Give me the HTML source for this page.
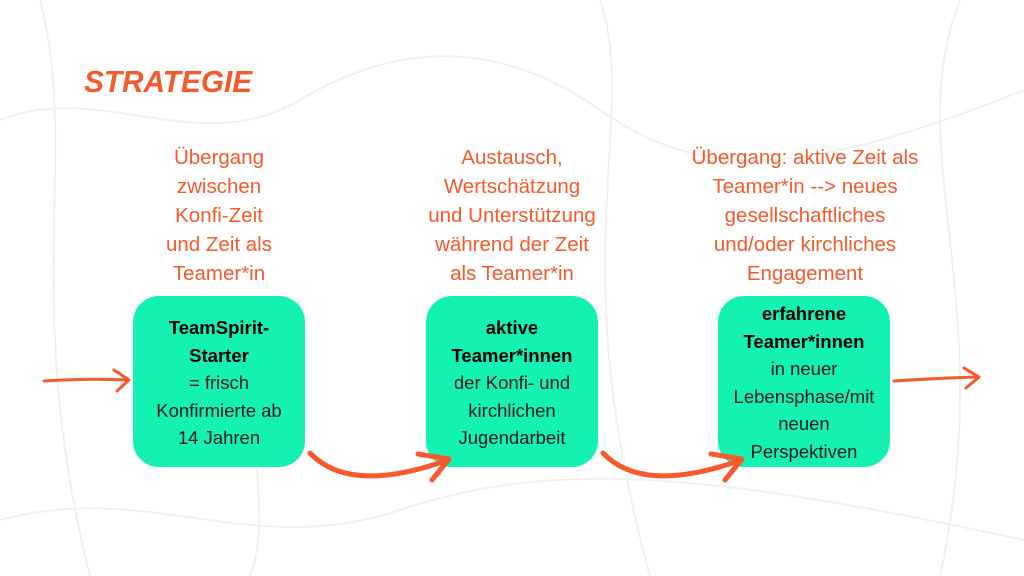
<!DOCTYPE html>
<html><head><meta charset="utf-8"><style>
body{margin:0;width:1024px;height:576px;background:#fff;position:relative;overflow:hidden;font-family:"Liberation Sans","DejaVu Sans",sans-serif}
.t{position:absolute;width:300px;text-align:center;color:#f5592c;font-size:20.5px;line-height:29px}
.b{position:absolute;top:296px;width:172px;height:171px;background:#13f2b2;border-radius:26px;text-align:center;font-size:18.5px;line-height:27.5px;color:#1a1a1a;box-sizing:border-box;padding-top:18px}
.b b{color:#000}
h1{position:absolute;left:84px;top:64px;margin:0;font-size:31px;color:#f5592c;font-style:italic;font-weight:900;letter-spacing:0px;font-family:"Liberation Sans",sans-serif;transform:scaleX(0.96);transform-origin:left}
</style></head><body>
<svg width="1024" height="576" style="position:absolute;left:0;top:0" fill="none" stroke="#f0f0f0" stroke-width="2">
<path d="M0 120 C100 80 200 160 300 100 S500 40 600 110 S800 180 1024 90"/>
<path d="M0 520 C150 480 250 560 400 510 S700 470 1024 540"/>
<path d="M40 0 C80 150 20 300 90 576"/>
<path d="M960 0 C900 150 1000 300 940 576"/>
<path d="M600 0 C640 120 560 250 650 576"/>
<path d="M250 576 C280 500 220 400 300 300"/>
</svg>
<h1>STRATEGIE</h1>
<div class="t" style="left:69px;top:143px">Übergang<br>zwischen<br>Konfi-Zeit<br>und Zeit als<br>Teamer*in</div>
<div class="t" style="left:362px;top:143px">Austausch,<br>Wertschätzung<br>und Unterstützung<br>während der Zeit<br>als Teamer*in</div>
<div class="t" style="left:655px;top:143px">Übergang: aktive Zeit als<br>Teamer*in --&gt; neues<br>gesellschaftliches<br>und/oder kirchliches<br>Engagement</div>
<div class="b" style="left:133px"><b>TeamSpirit-<br>Starter</b><br>= frisch<br>Konfirmierte ab<br>14 Jahren</div>
<div class="b" style="left:426px"><b>aktive<br>Teamer*innen</b><br>der Konfi- und<br>kirchlichen<br>Jugendarbeit</div>
<div class="b" style="left:718px;padding-top:4px"><b>erfahrene<br>Teamer*innen</b><br>in neuer<br>Lebensphase/mit<br>neuen<br>Perspektiven</div>
<svg width="1024" height="576" style="position:absolute;left:0;top:0" fill="none" stroke="#f5592c" stroke-linecap="round" stroke-linejoin="round">
<g stroke-width="3"><path d="M44 381 Q90 378 128 380"/><path d="M114 370 L129 380 L117 391"/>
<path d="M894 381 Q940 378 978 377"/><path d="M964 368 L979 377 L966 388"/></g>
<g stroke-width="5"><path d="M310 453 Q350 495 448 460"/><path d="M418 454 L449 459 L432 480"/>
<path d="M603 453 Q643 495 741 460"/><path d="M711 454 L742 459 L725 480"/></g>
</svg>
</body></html>
